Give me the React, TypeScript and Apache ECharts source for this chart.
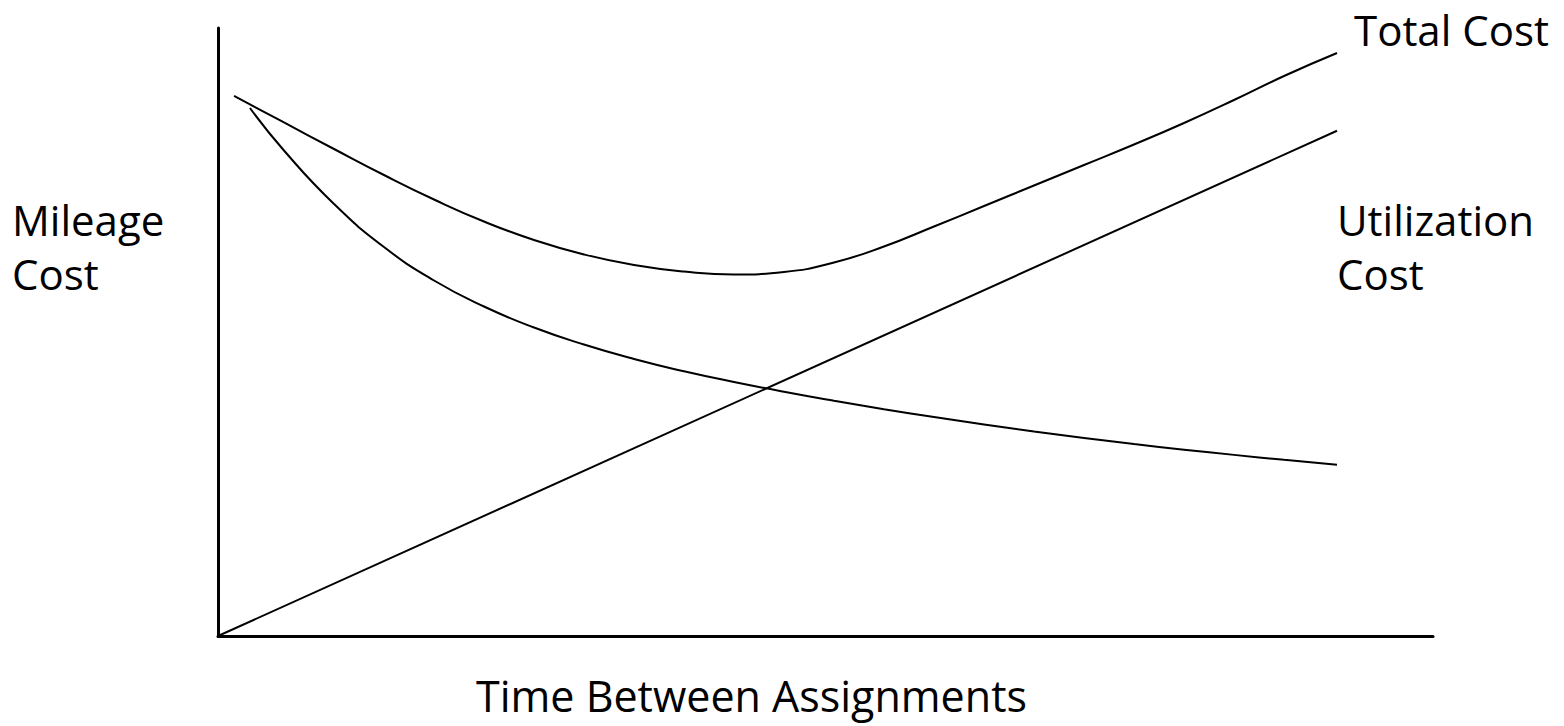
import React, { useEffect, useRef } from "react";
import * as echarts from "echarts";

// x: time between assignments (0-100), y: cost (0-100), schematic
const totalCostX = [1.32, 5.43, 9.55, 13.66, 17.78, 21.89, 26.01, 30.12, 34.24, 38.35, 42.47, 46.58, 50.70, 54.81, 58.93, 63.05, 67.16, 71.28, 75.39, 79.51, 83.62, 87.74, 92.10];
const totalCostY = [88.82, 84.46, 80.10, 75.82, 71.79, 68.17, 65.13, 62.75, 61.02, 59.95, 59.46, 59.87, 61.43, 64.06, 67.35, 70.72, 74.10, 77.47, 80.84, 84.38, 88.16, 92.11, 95.89];

const mileageCostX = [2.63, 5.43, 9.55, 13.66, 17.78, 21.89, 26.01, 30.12, 34.24, 38.35, 42.47, 46.58, 50.70, 54.81, 58.93, 63.05, 67.16, 71.28, 75.39, 79.51, 83.62, 87.74, 92.10];
const mileageCostY = [86.84, 79.85, 71.05, 63.98, 58.47, 54.19, 50.74, 47.94, 45.56, 43.54, 41.78, 40.17, 38.69, 37.31, 36.02, 34.80, 33.65, 32.58, 31.58, 30.65, 29.79, 28.98, 28.17];

const utilizationCostX = [0, 92.1];
const utilizationCostY = [0, 83.1];

const xAxisTitle = "Time Between Assignments";
const mileageLabel = "Mileage\nCost";
const utilizationLabel = "Utilization\nCost";
const totalLabel = "Total Cost";

const zip = (xs: number[], ys: number[]) => xs.map((x, i) => [x, ys[i]]);

const FONT = "'Open Sans', Lato, sans-serif";

export default function App() {
  const ref = useRef<HTMLDivElement>(null);
  useEffect(() => {
    document.body.style.margin = "0";
    document.body.style.overflow = "hidden";
    if (!ref.current) return;
    const chart = echarts.init(ref.current, undefined, { renderer: "svg" });
    const lineStyle = { color: "#000", width: 2 };
    const textStyle = (text: string, size: number, lh: number) => ({
      text,
      fill: "#000",
      font: `${size}px ${FONT}`,
      lineHeight: lh,
    });
    chart.setOption({
      animation: false,
      backgroundColor: "#fff",
      grid: { left: 218, right: 131, top: 28, bottom: 90, containLabel: false },
      xAxis: {
        type: "value",
        min: 0,
        max: 100,
        axisLine: { show: true, onZero: false, lineStyle: { color: "#000", width: 3 } },
        axisTick: { show: false },
        axisLabel: { show: false },
        splitLine: { show: false },
      },
      yAxis: {
        type: "value",
        min: 0,
        max: 100,
        axisLine: { show: true, onZero: false, lineStyle: { color: "#000", width: 3 } },
        axisTick: { show: false },
        axisLabel: { show: false },
        splitLine: { show: false },
      },
      series: [
        {
          name: "Total Cost",
          type: "line",
          data: zip(totalCostX, totalCostY),
          smooth: 0.5,
          showSymbol: false,
          lineStyle,
        },
        {
          name: "Mileage Cost",
          type: "line",
          data: zip(mileageCostX, mileageCostY),
          smooth: 0.5,
          showSymbol: false,
          lineStyle,
        },
        {
          name: "Utilization Cost",
          type: "line",
          data: zip(utilizationCostX, utilizationCostY),
          showSymbol: false,
          lineStyle,
        },
      ],
      graphic: [
        { type: "text", left: 12, top: 192, style: textStyle(mileageLabel, 42, 54) },
        { type: "text", left: 1337, top: 192, style: textStyle(utilizationLabel, 42, 54) },
        { type: "text", left: 1354, top: 7, style: textStyle(totalLabel, 42, 44) },
        { type: "text", left: 476, top: 673, style: textStyle(xAxisTitle, 43, 44) },
      ],
    });
    return () => chart.dispose();
  }, []);
  return <div ref={ref} style={{ width: 1564, height: 726 }} />;
}
